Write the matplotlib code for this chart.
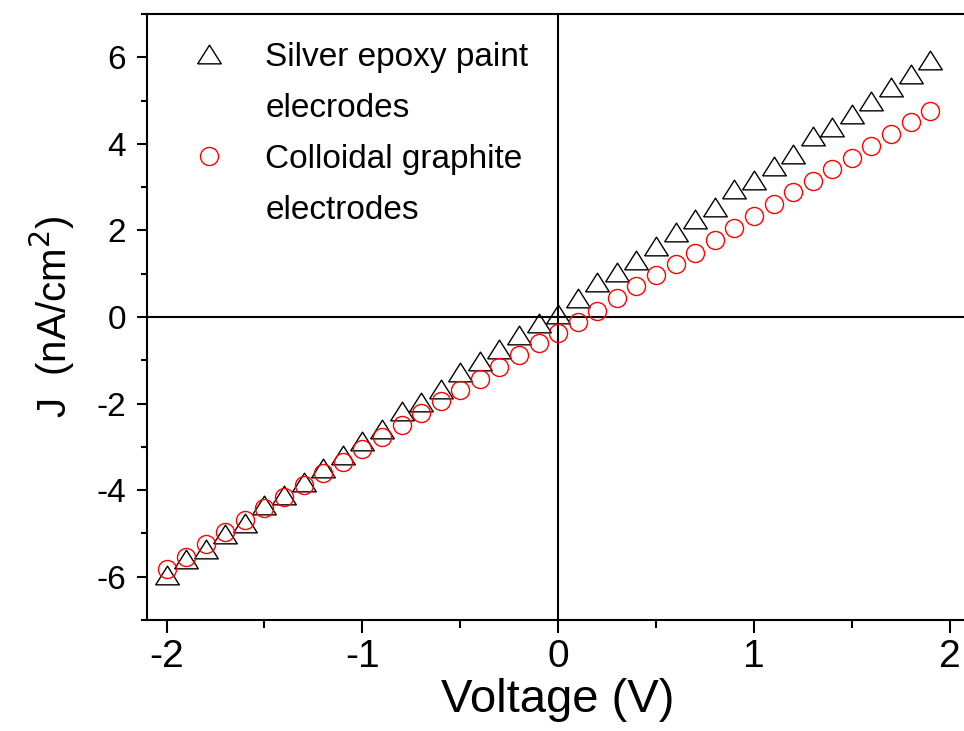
import numpy as np
import matplotlib.pyplot as plt
from matplotlib.lines import Line2D
from matplotlib.ticker import MultipleLocator

plt.rcParams["font.family"] = ["Liberation Sans", "DejaVu Sans"]
plt.rcParams["axes.unicode_minus"] = False

# ---- data ----
voltage = np.round(np.arange(-2.0, 1.95, 0.1), 1)

j_silver = [-5.97, -5.59, -5.36, -5.01, -4.76, -4.34, -4.10, -3.80, -3.48, -3.19,
            -2.87, -2.58, -2.17, -1.97, -1.67, -1.27, -1.02, -0.73, -0.42, -0.13,
            0.07, 0.44, 0.80, 1.05, 1.32, 1.63, 1.97, 2.26, 2.54, 2.95,
            3.17, 3.50, 3.77, 4.18, 4.38, 4.70, 5.00, 5.31, 5.62, 5.93]

j_graphite = [-5.82, -5.55, -5.24, -4.97, -4.69, -4.42, -4.15, -3.88, -3.61, -3.34,
              -3.05, -2.77, -2.49, -2.22, -1.95, -1.69, -1.42, -1.16, -0.88, -0.61,
              -0.36, -0.11, 0.13, 0.44, 0.71, 0.96, 1.23, 1.49, 1.77, 2.06,
              2.34, 2.62, 2.88, 3.15, 3.43, 3.68, 3.95, 4.22, 4.50, 4.76]

labels = ["Silver epoxy paint", "elecrodes", "Colloidal graphite", "electrodes"]

# wide, slightly flattened triangle like the original
tri = [(-1.2, -0.95), (1.2, -0.95), (0.0, 0.95), (-1.2, -0.95)]

fig = plt.figure(figsize=(9.64, 7.31), dpi=100)
ax = fig.add_axes([0.1525, 0.1518, 0.853, 0.829])

ax.axhline(0, color="black", lw=1.5, zorder=1)
ax.axvline(0, color="black", lw=1.5, zorder=1)

h1, = ax.plot(voltage, j_silver, linestyle="none", marker=tri, ms=17,
              mfc="none", mec="black", mew=1.0, zorder=3)
h2, = ax.plot(voltage, j_graphite, linestyle="none", marker="o", ms=13,
              mfc="none", mec="red", mew=1.0, zorder=3)

ax.set_xlim(-2.1, 2.1)
ax.set_ylim(-7, 7)
ax.xaxis.set_major_locator(MultipleLocator(1))
ax.xaxis.set_minor_locator(MultipleLocator(0.5))
ax.yaxis.set_major_locator(MultipleLocator(2))
ax.yaxis.set_minor_locator(MultipleLocator(1))

for s in ax.spines.values():
    s.set_linewidth(1.5)

ax.tick_params(axis="x", which="major", direction="out", length=9, width=1.5,
               labelsize=28, pad=5)
ax.tick_params(axis="x", which="minor", direction="out", length=6, width=1.5)
ax.tick_params(axis="y", which="major", direction="out", length=7, width=1.5,
               labelsize=24, pad=8)
ax.tick_params(axis="y", which="minor", direction="out", length=4.5, width=1.5)

ax.set_xlabel("Voltage (V)", fontsize=34, labelpad=2)
ax.set_ylabel("J  (nA/cm$^2$)", fontsize=29, labelpad=14)

blank = Line2D([], [], linestyle="none", marker="")
ax.legend([h1, blank, h2, blank], labels, loc="upper left",
          bbox_to_anchor=(0.006, 0.993), frameon=False, fontsize=24,
          handletextpad=0.7, labelspacing=0.6, borderaxespad=0.3)

fig.savefig("out.png", dpi=100)
